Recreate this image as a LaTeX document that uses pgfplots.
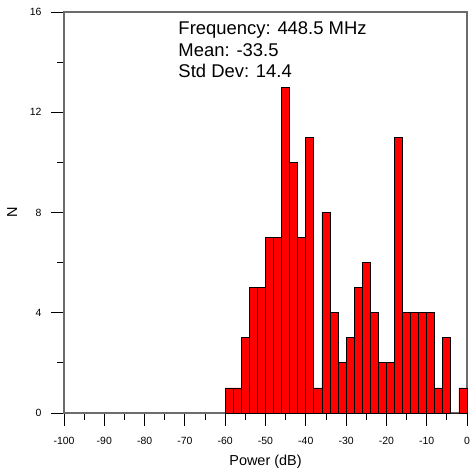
\documentclass[border=0pt]{standalone}
\usepackage{fontspec}
\setmainfont{Liberation Sans}
\usepackage{pgfplots}
\pgfplotsset{compat=1.18}

% histogram of received power, 2 dB bins (left edges)
\pgfplotstableread{
x    n
-60  1
-58  1
-56  3
-54  5
-52  5
-50  7
-48  7
-46  13
-44  10
-42  7
-40  11
-38  1
-36  8
-34  4
-32  2
-30  3
-28  5
-26  6
-24  4
-22  2
-20  2
-18  11
-16  4
-14  4
-12  4
-10  4
-8   1
-6   3
-4   0
-2   1
0    1
}\powertable

\begin{document}
\begin{tikzpicture}[x=1bp,y=1bp]
\begin{axis}[
    name=ax,
    scale only axis,
    width=403bp, height=401bp,
    xmin=-100, xmax=0,
    ymin=0, ymax=16,
    xtick={-100,-90,...,0},
    ytick={0,4,8,12,16},
    minor tick num=1,
    xtick pos=bottom, ytick pos=left,
    tick align=outside,
    major tick length=13bp,
    minor tick length=7bp,
    tick style={black, line width=0.9bp},
    axis line style={gray!85!black, line width=1.2bp},
    ticklabel style={font=\fontsize{10.5}{12}\selectfont},
    /pgf/number format/assume math mode=true,
    xticklabel style={yshift=-8bp},
    yticklabel style={xshift=-6bp},
    xlabel={Power (dB)},
    ylabel={N},
    label style={font=\fontsize{14.5}{16}\selectfont},
    xlabel style={yshift=-3bp},
    ylabel style={yshift=6bp},
    clip=false,
]
\addplot[ybar interval, fill=red, draw=black, line width=0.8bp]
    table[x=x, y=n] {\powertable};
\node[anchor=north west, align=left, inner sep=0pt,
      font=\fontsize{18.5}{22}\selectfont]
    at (axis cs:-71.64,15.64)
    {Frequency: 448.5 MHz\\Mean: -33.5\\Std Dev: 14.4};
\end{axis}
\pgfresetboundingbox
\path ([shift={(-64bp,-57bp)}]ax.south west) rectangle ([shift={(7bp,12bp)}]ax.north east);
\end{tikzpicture}
\end{document}
